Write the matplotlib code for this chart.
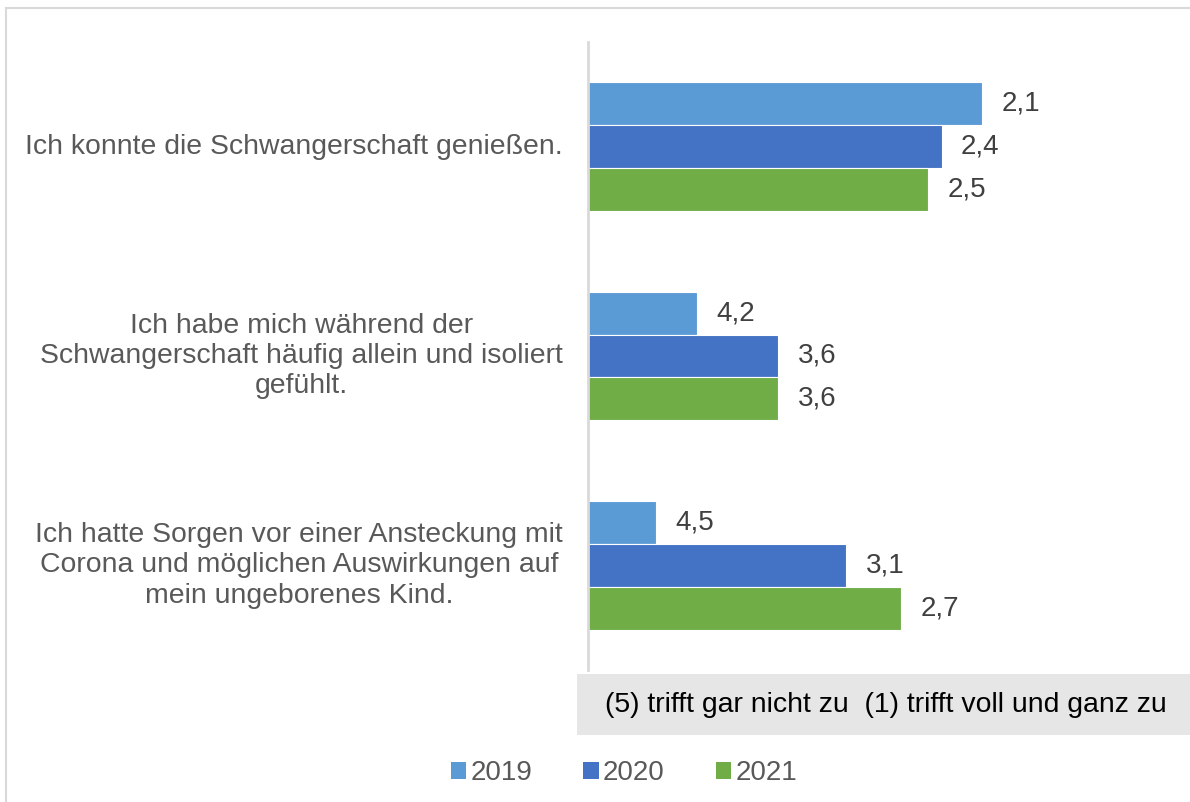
import matplotlib.pyplot as plt
from matplotlib.patches import Rectangle, Patch
import numpy as np

plt.rcParams['font.family'] = ['Liberation Sans', 'DejaVu Sans']

categories = [
    "Ich konnte die Schwangerschaft genießen.",
    "Ich habe mich während der\nSchwangerschaft häufig allein und isoliert\ngefühlt.",
    "Ich hatte Sorgen vor einer Ansteckung mit\nCorona und möglichen Auswirkungen auf\nmein ungeborenes Kind.",
]
years = ["2019", "2020", "2021"]
vals_2019 = [2.1, 4.2, 4.5]
vals_2020 = [2.4, 3.6, 3.1]
vals_2021 = [2.5, 3.6, 2.7]
series = [vals_2019, vals_2020, vals_2021]
colors = ["#5B9BD5", "#4472C4", "#70AD47"]

W, H = 1190, 802
fig = plt.figure(figsize=(W / 100, H / 100), dpi=100)

# outer chart frame
fig.patches.append(Rectangle((6 / W, -0.05), 1.1, 1 - 8 / H + 0.05, transform=fig.transFigure,
                             facecolor='none', edgecolor='#d9d9d9', linewidth=1.5))

ax = fig.add_axes([588 / W, 1 - 670 / H, (1132 - 588) / W, (670 - 42) / H])
ax.set_xlim(5, 1)
ax.set_ylim(3, 0)

bh = 0.205
y = np.arange(len(categories)) + 0.5
for i, (vals, c) in enumerate(zip(series, colors)):
    yy = y + (i - 1) * bh
    v = np.array(vals)
    ax.barh(yy, v - 5, left=5, height=bh, color=c, edgecolor='white', linewidth=0.8)
    for yi, vi in zip(yy, v):
        ax.annotate(f"{vi:.1f}".replace('.', ','), (vi, yi), xytext=(14, 0),
                    textcoords='offset points', ha='left', va='center',
                    fontsize=20, color='#404040')

for sp in ['top', 'right', 'bottom']:
    ax.spines[sp].set_visible(False)
ax.spines['left'].set_color('#d9d9d9')
ax.spines['left'].set_linewidth(2)
ax.set_xticks([])
ax.set_yticks([])

for yi, lab in zip(y, categories):
    ax.text(-25 / 544, yi, lab, ha='right', va='center', multialignment='center',
            fontsize=20.4, color='#595959', linespacing=1.22,
            transform=ax.get_yaxis_transform())

# scale explanation box
fig.patches.append(Rectangle((577 / W, 1 - 735 / H), 1.0, 61 / H, transform=fig.transFigure,
                             facecolor='#e6e6e6', edgecolor='none'))
fig.text(605 / W, 1 - 705 / H, "(5) trifft gar nicht zu  (1) trifft voll und ganz zu",
         ha='left', va='center', fontsize=20.4, color='black')

handles = [Patch(facecolor=c, edgecolor='none') for c in colors]
fig.legend(handles, years, loc='center', bbox_to_anchor=(624 / W, 1 - 773 / H), ncol=3,
           frameon=False, fontsize=20, labelcolor='#595959', handlelength=0.55,
           handleheight=0.55, handletextpad=0.15, columnspacing=1.85)

fig.savefig('out.png', dpi=100)
